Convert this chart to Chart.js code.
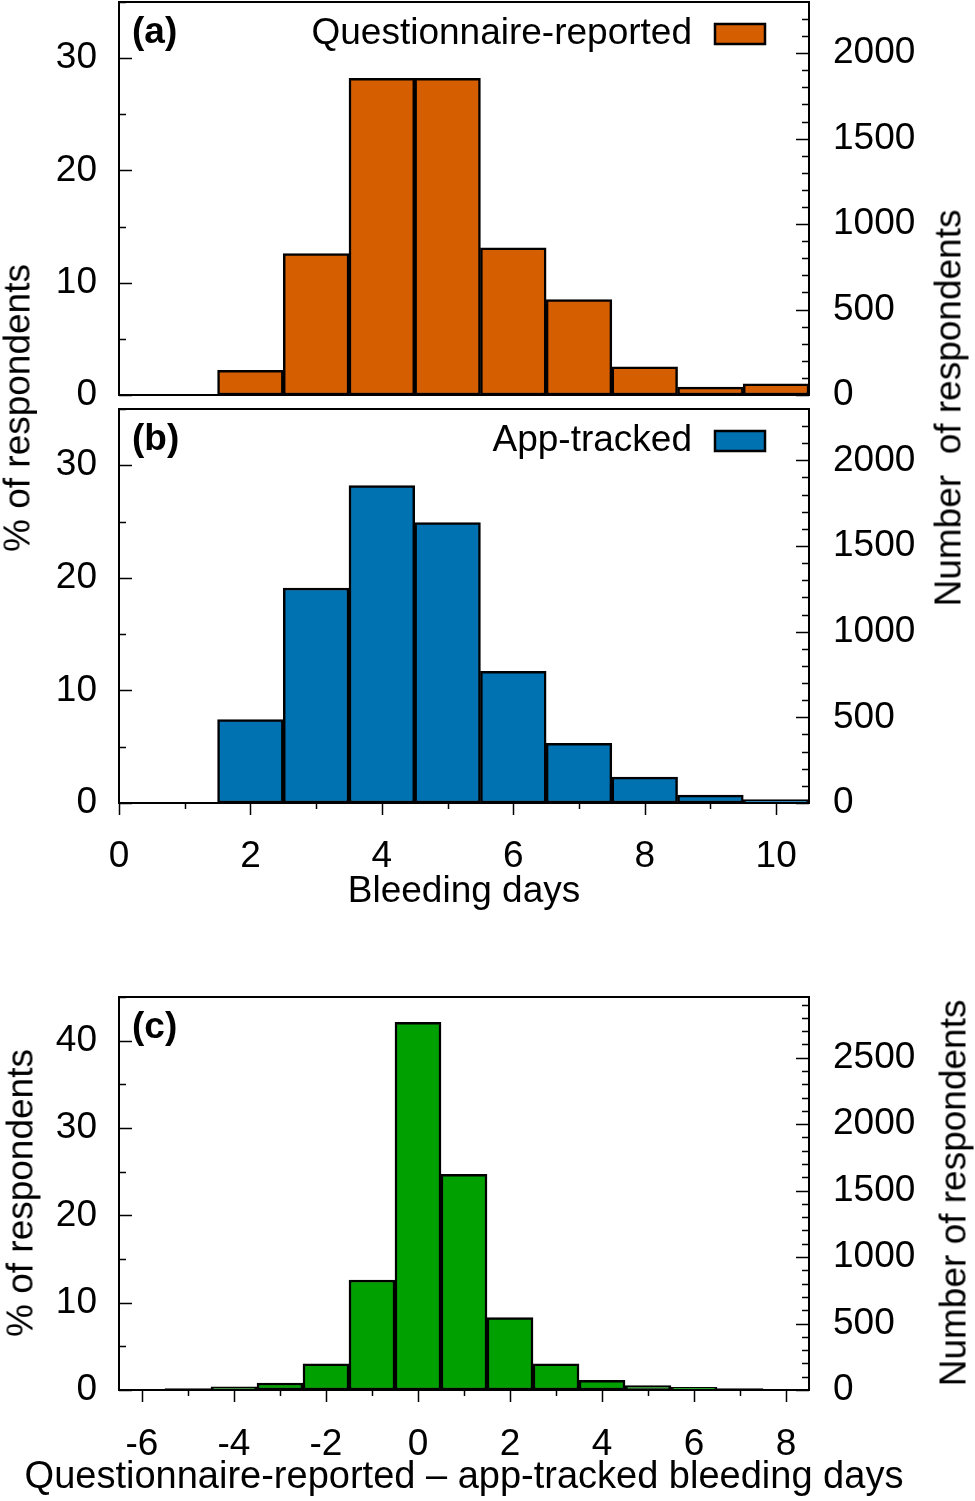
<!DOCTYPE html>
<html>
<head>
<meta charset="utf-8">
<script src="https://cdn.jsdelivr.net/npm/chart.js@4.4.0/dist/chart.umd.min.js"></script>
<style>
  body { margin: 0; background: #fff; width: 975px; height: 1501px; position: relative; overflow: hidden;
         font-family: "Liberation Sans", Arial, sans-serif; }
  .panel { position: absolute; left: 0; }
  .ytitle { position: absolute; font-size: 37px; line-height: 1; white-space: pre; color: #000;
            transform: translate(-50%, -50%) rotate(-90deg); }
</style>
</head>
<body>
<div class="panel" style="top:0"><canvas id="chartA" width="975" height="420"></canvas></div>
<div class="panel" style="top:400px"><canvas id="chartB" width="975" height="520"></canvas></div>
<div class="panel" style="top:930px"><canvas id="chartC" width="975" height="571"></canvas></div>

<div class="ytitle" style="left:17px; top:408px">% of respondents</div>
<div class="ytitle" style="left:948px; top:408px">Number  of respondents</div>
<div class="ytitle" style="left:20px; top:1193px">% of respondents</div>
<div class="ytitle" style="left:953px; top:1193px">Number of respondents</div>

<script>
// bleeding days histograms (% of respondents)
var days = [2, 3, 4, 5, 6, 7, 8, 9, 10];
var questionnairePct = [2.2, 12.6, 28.2, 28.2, 13.1, 8.5, 2.5, 0.7, 1.0];
var appPct = [7.4, 19.1, 28.2, 24.9, 11.7, 5.3, 2.3, 0.7, 0.3];

// questionnaire - app difference
var diffDays = [-6, -5, -4, -3, -2, -1, 0, 1, 2, 3, 4, 5, 6, 7, 8];
var diffPct = [0, 0.15, 0.35, 0.8, 3.0, 12.6, 42.1, 24.7, 8.3, 3.0, 1.1, 0.5, 0.3, 0.15, 0];

var dayTicks = [0, 2, 4, 6, 8, 10];
var diffTicks = [-6, -4, -2, 0, 2, 4, 6, 8];
var pctTicksAB = [0, 10, 20, 30];
var pctTicksC = [0, 10, 20, 30, 40];
var countTicksAB = [0, 500, 1000, 1500, 2000];
var countTicksC = [0, 500, 1000, 1500, 2000, 2500];
var respondents = 6570;

var FONT = 37;
var FAMILY = '"Liberation Sans", Arial, sans-serif';

// frame, inner tick marks, panel letter, legend and x title
var panelDeco = {
  id: 'panelDeco',
  afterDraw: function(chart, args, o) {
    var ctx = chart.ctx, a = chart.chartArea, s = chart.scales;
    ctx.save();
    ctx.strokeStyle = '#000';
    ctx.lineWidth = 1.5;
    ctx.beginPath();
    var k, v, p, len;
    // left % ticks (inside)
    for (k = 0; k * 5 <= s.y.max + 1e-9; k++) {
      v = k * 5;
      p = Math.round(s.y.getPixelForValue(v)) + 0.5;
      len = v % 10 === 0 ? 13 : 7;
      ctx.moveTo(a.left, p); ctx.lineTo(a.left + len, p);
    }
    // right count ticks (inside)
    for (k = 0; k * 100 <= s.y1.max + 1e-9; k++) {
      v = k * 100;
      p = Math.round(s.y1.getPixelForValue(v)) + 0.5;
      len = v % 500 === 0 ? 13 : 7;
      ctx.moveTo(a.right, p); ctx.lineTo(a.right - len, p);
    }
    // x ticks (outside, below)
    if (o.xTicks) {
      for (k = Math.ceil(s.x.min); k <= s.x.max; k++) {
        p = Math.round(s.x.getPixelForValue(k)) + 0.5;
        len = k % 2 === 0 ? 12 : 6;
        ctx.moveTo(p, a.bottom); ctx.lineTo(p, a.bottom + len);
      }
    }
    ctx.stroke();

    ctx.lineWidth = 2;
    ctx.strokeRect(a.left, a.top, a.right - a.left, a.bottom - a.top);

    ctx.fillStyle = '#000';
    ctx.textBaseline = 'middle';
    ctx.textAlign = 'left';
    ctx.font = 'bold ' + FONT + 'px ' + FAMILY;
    ctx.fillText(o.tag, a.left + 13, a.top + 31);

    if (o.xTitle) {
      ctx.font = (o.xTitleSize || FONT) + 'px ' + FAMILY;
      ctx.textAlign = 'center';
      ctx.fillText(o.xTitle, (a.left + a.right) / 2, a.bottom + o.xTitleY);
    }

    if (o.legend) {
      var ds = chart.data.datasets[0];
      var bx = a.right - 94, by = a.top + 22;
      ctx.font = FONT + 'px ' + FAMILY;
      ctx.textAlign = 'right';
      ctx.fillText(ds.label, bx - 23, by + 10);
      ctx.fillStyle = ds.backgroundColor;
      ctx.fillRect(bx, by, 50, 20);
      ctx.lineWidth = 2.5;
      ctx.strokeRect(bx, by, 50, 20);
    }
    ctx.restore();
  }
};

function noPad(s) {
  s.paddingTop = 0; s.paddingBottom = 0; s.paddingLeft = 0; s.paddingRight = 0;
}

function makeHist(id, c) {
  var pts = c.x.map(function(v, i) { return { x: v, y: c.y[i] }; });
  var showX = !!c.xTicks;
  return new Chart(document.getElementById(id), {
    type: 'bar',
    data: {
      datasets: [{
        label: c.label,
        data: pts,
        backgroundColor: c.color,
        borderColor: '#000',
        borderWidth: 2.5,
        borderSkipped: false,
        barPercentage: 1,
        categoryPercentage: 1
      }]
    },
    options: {
      responsive: false,
      animation: false,
      layout: { padding: { top: c.padTop, bottom: c.padBottom || 0 } },
      plugins: {
        legend: { display: false },
        tooltip: { enabled: false },
        panelDeco: { tag: c.tag, legend: c.showLegend, xTicks: showX,
                     xTitle: c.xTitle, xTitleY: c.xTitleY, xTitleSize: c.xTitleSize }
      },
      scales: {
        x: {
          type: 'linear',
          offset: false,
          min: c.xMin, max: c.xMax,
          display: showX,
          grid: { display: false, drawTicks: false, offset: false },
          border: { display: false },
          afterBuildTicks: function(s) {
            if (showX) s.ticks = c.xTicks.map(function(v) { return { value: v }; });
          },
          afterFit: function(s) { s.height = c.xHeight || 0; noPad(s); },
          ticks: { autoSkip: false, maxRotation: 0, padding: c.xPad || 30, color: '#000',
                   font: { size: FONT, family: FAMILY } }
        },
        y: {
          position: 'left',
          min: 0, max: c.pctMax,
          grid: { display: false, drawTicks: false },
          border: { display: false },
          afterBuildTicks: function(s) { s.ticks = c.pctTicks.map(function(v) { return { value: v }; }); },
          afterFit: function(s) { s.width = 119; noPad(s); },
          ticks: { padding: 22, color: '#000', font: { size: FONT, family: FAMILY } }
        },
        y1: {
          position: 'right',
          display: true,
          min: 0, max: c.pctMax * respondents / 100,
          grid: { display: false, drawTicks: false },
          border: { display: false },
          afterBuildTicks: function(s) { s.ticks = c.countTicks.map(function(v) { return { value: v }; }); },
          afterFit: function(s) { s.width = 166; noPad(s); },
          ticks: { padding: 24, color: '#000', font: { size: FONT, family: FAMILY },
                   callback: function(v) { return String(v); } }
        }
      }
    },
    plugins: [panelDeco]
  });
}

makeHist('chartA', {
  tag: '(a)', label: 'Questionnaire-reported', color: '#D55E00', showLegend: true,
  x: days, y: questionnairePct, xMin: 0, xMax: 10.5,
  pctMax: 35, pctTicks: pctTicksAB, countTicks: countTicksAB,
  padTop: 2, padBottom: 25
});

makeHist('chartB', {
  tag: '(b)', label: 'App-tracked', color: '#0072B2', showLegend: true,
  x: days, y: appPct, xMin: 0, xMax: 10.5, xTicks: dayTicks,
  xHeight: 117, xPad: 32, xTitle: 'Bleeding days', xTitleY: 89,
  pctMax: 35, pctTicks: pctTicksAB, countTicks: countTicksAB,
  padTop: 9
});

makeHist('chartC', {
  tag: '(c)', label: 'Difference', color: '#00A000', showLegend: false,
  x: diffDays, y: diffPct, xMin: -6.5, xMax: 8.5, xTicks: diffTicks,
  xHeight: 111, xPad: 33, xTitle: 'Questionnaire-reported \u2013 app-tracked bleeding days',
  xTitleY: 88, xTitleSize: 38,
  pctMax: 45, pctTicks: pctTicksC, countTicks: countTicksC,
  padTop: 67
});
</script>
</body>
</html>
